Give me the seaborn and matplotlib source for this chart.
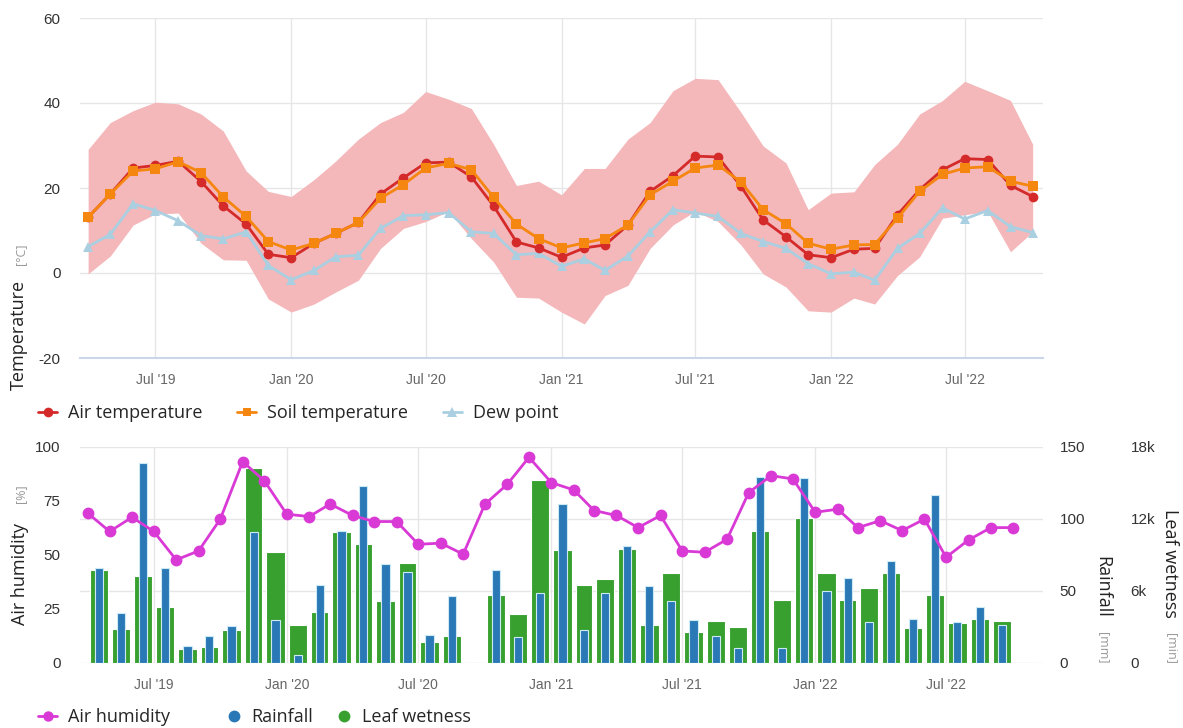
import matplotlib
matplotlib.use("Agg")
import matplotlib.pyplot as plt
import matplotlib.dates as mdates
from matplotlib.lines import Line2D
import pandas as pd
import seaborn as sns

# ---------------------------------------------------------------
# monthly data, Apr 2019 .. Oct 2022
# ---------------------------------------------------------------
months = pd.date_range("2019-04-01", periods=43, freq="MS")

air_temp = [13.1, 18.6, 24.7, 25.3, 26.3, 21.5, 15.8, 11.5, 4.4,
            3.6, 7.0, 9.3, 11.9, 18.6, 22.4, 25.9, 26.1, 22.6, 15.8, 7.3, 5.9,
            3.7, 5.9, 6.6, 11.3, 19.2, 22.9, 27.5, 27.3, 20.4, 12.5, 8.5, 4.3,
            3.6, 5.6, 5.8, 13.7, 19.6, 24.3, 26.9, 26.7, 20.6, 18.0]
soil_temp = [13.1, 18.6, 24.0, 24.5, 26.2, 23.6, 17.9, 13.3, 7.4,
             5.4, 7.0, 9.3, 11.9, 17.6, 20.8, 24.7, 25.8, 24.3, 17.8, 11.5, 8.1,
             5.9, 7.1, 8.1, 11.3, 18.4, 21.6, 24.7, 25.4, 21.4, 14.9, 11.6, 7.0,
             5.6, 6.6, 6.7, 12.9, 19.2, 23.2, 24.7, 25.0, 21.6, 20.4]
dew_point = [6.2, 9.1, 16.3, 14.7, 12.3, 8.8, 8.0, 9.7, 1.8,
             -1.6, 0.6, 3.8, 4.2, 10.5, 13.5, 13.7, 14.2, 9.7, 9.3, 4.3, 4.6,
             1.6, 3.3, 0.6, 4.0, 9.7, 14.9, 14.1, 13.3, 9.3, 7.4, 5.8, 2.2,
             -0.2, 0.2, -1.7, 5.8, 9.3, 15.3, 12.7, 14.7, 10.9, 9.5]
temp_max = [29.1, 35.4, 38.2, 40.2, 39.8, 37.4, 33.4, 24.0, 19.2,
            18.0, 22.0, 26.3, 31.5, 35.4, 37.8, 42.7, 40.9, 38.7, 30.3, 20.6, 21.6,
            18.4, 24.6, 24.6, 31.5, 35.4, 42.9, 45.8, 45.5, 37.8, 29.9, 25.9, 14.9,
            18.8, 19.1, 25.5, 30.3, 37.4, 40.6, 45.1, 42.9, 40.6, 30.3]
temp_min = [-0.2, 4.0, 11.3, 13.9, 14.1, 7.0, 3.1, 3.0, -6.1,
            -9.2, -7.3, -4.5, -1.7, 5.8, 10.5, 12.1, 14.5, 8.1, 2.6, -5.7, -5.9,
            -9.2, -12.0, -5.3, -2.9, 5.8, 11.3, 14.5, 12.1, 6.6, -0.2, -3.3, -8.9,
            -9.2, -5.9, -7.3, -0.6, 3.8, 12.9, 13.7, 14.5, 5.0, 9.7]

humidity = [69.2, 60.8, 67.4, 60.8, 47.7, 51.8, 66.5, 93.1, 84.2,
            68.8, 67.7, 73.5, 68.2, 65.4, 65.4, 54.9, 55.4, 50.3, 73.4, 82.6, 95.1,
            83.4, 80.0, 70.5, 68.2, 62.6, 68.2, 51.8, 51.2, 57.2, 78.8, 86.6, 85.1,
            69.7, 71.1, 62.6, 65.8, 61.2, 66.5, 48.9, 56.9, 62.6, 62.6]
rainfall = [65.8, 34.6, 139.0, 65.8, 11.5, 18.5, 25.4, 90.7, 30.0,
            5.8, 53.8, 91.8, 122.8, 68.5, 62.8, 19.6, 46.2, 0.0, 64.2, 18.0, 48.5,
            110.0, 23.0, 48.5, 81.2, 53.1, 42.7, 29.5, 18.5, 10.4, 129.0, 10.4, 128.5,
            49.6, 58.8, 28.4, 70.4, 30.5, 116.5, 28.4, 38.5, 26.1, 0.0]
leaf_wetness = [7700, 2825, 7200, 4650, 1160, 1300, 2710, 16200, 9220,
                3185, 4240, 10940, 9910, 5120, 8310, 1745, 2270, 0, 5620, 4100, 15230,
                9415, 6450, 6980, 9500, 3185, 7480, 2575, 3520, 2990, 11020, 5260, 12050,
                7480, 5260, 6230, 7480, 2910, 5620, 3320, 3680, 3520, 0]

tick_dates = pd.to_datetime(["2019-07-01", "2020-01-01", "2020-07-01", "2021-01-01",
                             "2021-07-01", "2022-01-01", "2022-07-01"])
tick_labels = [d.strftime("%b '%y") for d in tick_dates]

RED = "#d42a2a"
ORANGE = "#f5860f"
DEW = "#a9cfe1"
BAND = "#f4b7ba"
MAGENTA = "#d93ad6"
BLUE = "#2a79b6"
GREEN = "#37a02f"
GRID = "#e6e6e6"
AXIS = "#ccd6eb"

sns.set_theme(style="white")
plt.rcParams["font.family"] = ["Liberation Sans", "DejaVu Sans"]
plt.rcParams["axes.unicode_minus"] = False

x = mdates.date2num(months)
x_ticks = mdates.date2num(tick_dates)
days = months.days_in_month.values
x_mid = x + days / 2.0

W, H = 1183, 728
fig = plt.figure(figsize=(W / 100, H / 100), dpi=100)
legend_font = {"family": "Open Sans", "size": 13}


def style_x(ax, right_date):
    ax.set_xlim(mdates.date2num(pd.Timestamp("2019-03-21")),
                mdates.date2num(pd.Timestamp(right_date)))
    ax.set_xticks(x_ticks)
    ax.set_xticklabels(tick_labels)
    ax.tick_params(axis="x", labelsize=10, labelcolor="#666666", length=5,
                   color=AXIS, pad=6)
    for s in ["top", "right", "left"]:
        ax.spines[s].set_visible(False)
    ax.spines["bottom"].set_color(AXIS)
    ax.spines["bottom"].set_linewidth(1.5)


# ---------------------------------------------------------------
# top: temperatures
# ---------------------------------------------------------------
ax_t = fig.add_axes([80 / W, 1 - 358 / H, 963 / W, 340 / H])
ax_t.fill_between(x, temp_min, temp_max, color=BAND, lw=0, zorder=1)
sns.lineplot(x=x, y=dew_point, ax=ax_t, color=DEW, marker="^", markersize=7,
             markeredgewidth=0, linewidth=2, zorder=3)
sns.lineplot(x=x, y=air_temp, ax=ax_t, color=RED, marker="o", markersize=7,
             markeredgewidth=0, linewidth=2, zorder=4)
sns.lineplot(x=x, y=soil_temp, ax=ax_t, color=ORANGE, marker="s", markersize=6.5,
             markeredgewidth=0, linewidth=2, zorder=5)
ax_t.set_ylim(-20, 60)
ax_t.set_yticks([-20, 0, 20, 40, 60])
ax_t.tick_params(axis="y", labelsize=11, labelcolor="#333333", length=0, pad=14)
ax_t.grid(True, color=GRID, lw=1)
ax_t.set_axisbelow(True)
style_x(ax_t, "2022-10-15")

fig.text(19 / W, 1 - 335 / H, "Temperature", rotation=90, ha="center", va="center",
         fontsize=13, family="Open Sans", color="#222222")
fig.text(21 / W, 1 - 254 / H, "[°C]", rotation=90, ha="center", va="center",
         fontsize=9, family="Open Sans", color="#999999")

h_top = [Line2D([], [], color=RED, marker="o", ms=7, lw=2, mew=0),
         Line2D([], [], color=ORANGE, marker="s", ms=6, lw=2, mew=0),
         Line2D([], [], color=DEW, marker="^", ms=7, lw=2, mew=0)]
fig.legend(h_top, ["Air temperature", "Soil temperature", "Dew point"],
           loc="center left", bbox_to_anchor=(22 / W, 1 - 413 / H), ncol=3,
           frameon=False, handlelength=1.05, handletextpad=0.62, columnspacing=1.9,
           prop=legend_font)

# ---------------------------------------------------------------
# bottom: humidity, rainfall, leaf wetness
# ---------------------------------------------------------------
ax_h = fig.add_axes([80 / W, 1 - 663 / H, 963 / W, 216.3 / H])
ax_lw = ax_h.twinx()
ax_r = ax_h.twinx()
ax_lw.set_zorder(1)
ax_r.set_zorder(2)
ax_h.set_zorder(3)
for a in (ax_lw, ax_r, ax_h):
    a.patch.set_visible(False)
    for s in a.spines.values():
        s.set_visible(False)

ax_lw.bar(x_mid, leaf_wetness, width=days * 0.82, color=GREEN, edgecolor="white",
          linewidth=0.8)
ax_r.bar(x_mid, rainfall, width=days * 0.37, color=BLUE, edgecolor="#cdeaf4",
         linewidth=0.8)
sns.lineplot(x=x, y=humidity, ax=ax_h, color=MAGENTA, marker="o", markersize=8.5,
             markeredgewidth=0, linewidth=2)

ax_h.set_ylim(0, 100)
ax_h.set_yticks([0, 25, 50, 75, 100])
ax_h.tick_params(axis="y", labelsize=11, labelcolor="#333333", length=0, pad=14)
style_x(ax_h, "2022-11-12")

ax_r.set_ylim(0, 150)
ax_r.set_yticks([0, 50, 100, 150])
ax_r.tick_params(axis="y", labelsize=11, labelcolor="#333333", length=0, pad=12)

ax_lw.set_ylim(0, 18000)
ax_lw.set_yticks([0, 6000, 12000, 18000])
ax_lw.set_yticklabels(["0", "6k", "12k", "18k"])
ax_lw.tick_params(axis="y", labelsize=11, labelcolor="#333333", length=0, pad=63)
ax_lw.xaxis.set_visible(True)
ax_lw.tick_params(axis="x", labelbottom=False, length=0)
ax_lw.grid(True, color=GRID, lw=1)
ax_lw.set_axisbelow(True)

fig.text(20 / W, 1 - 574 / H, "Air humidity", rotation=90, ha="center", va="center",
         fontsize=13, family="Open Sans", color="#222222")
fig.text(21 / W, 1 - 494 / H, "[%]", rotation=90, ha="center", va="center",
         fontsize=9, family="Open Sans", color="#999999")
fig.text(1102 / W, 1 - 587 / H, "Rainfall", rotation=270, ha="center", va="center",
         fontsize=13, family="Open Sans", color="#222222")
fig.text(1103 / W, 1 - 648 / H, "[mm]", rotation=270, ha="center", va="center",
         fontsize=9, family="Open Sans", color="#999999")
fig.text(1170 / W, 1 - 563 / H, "Leaf wetness", rotation=270, ha="center",
         va="center", fontsize=13, family="Open Sans", color="#222222")
fig.text(1171 / W, 1 - 648 / H, "[min]", rotation=270, ha="center", va="center",
         fontsize=9, family="Open Sans", color="#999999")

# bottom legend in two parts, the column symbols sit closer together
fig.legend([Line2D([], [], color=MAGENTA, marker="o", ms=7.5, lw=2, mew=0)],
           ["Air humidity"], loc="center left",
           bbox_to_anchor=(22 / W, 1 - 717 / H), frameon=False,
           handlelength=1.05, handletextpad=0.62, prop=legend_font)
fig.legend([Line2D([], [], color=BLUE, marker="o", ms=8.5, lw=0, mew=0),
            Line2D([], [], color=GREEN, marker="o", ms=8.5, lw=0, mew=0)],
           ["Rainfall", "Leaf wetness"], ncol=2, loc="center left",
           bbox_to_anchor=(208 / W, 1 - 717 / H), frameon=False,
           handlelength=1.05, handletextpad=0.45, columnspacing=1.2,
           prop=legend_font)

fig.savefig("out.png", dpi=100)
